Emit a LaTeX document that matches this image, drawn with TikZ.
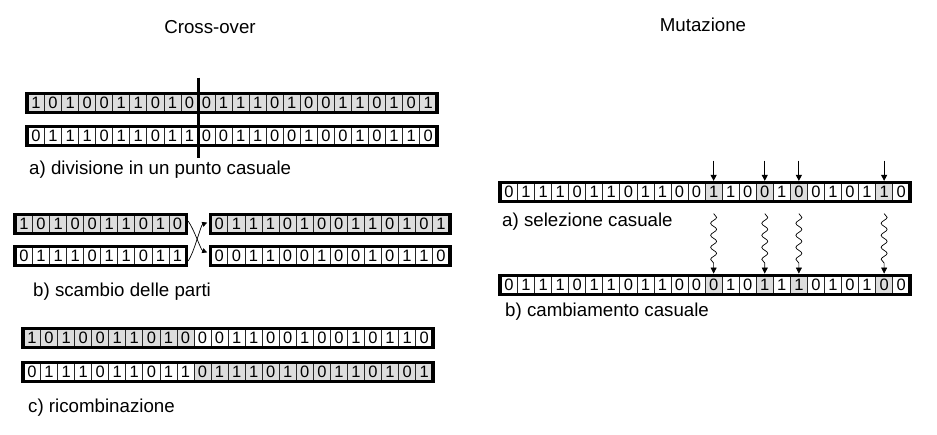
\documentclass[tikz,border=0pt]{standalone}
\usepackage{fontspec}
\setmainfont{Liberation Sans}
\usetikzlibrary{arrows.meta,fit,calc,decorations.pathmorphing}
\definecolor{gr}{RGB}{221,221,221}
\definecolor{wh}{RGB}{255,255,255}
\tikzset{
  cell/.style={draw=black!85, line width=0.8pt, minimum width=17.05pt, minimum height=18pt,
               inner sep=0pt, font=\fontsize{16.5}{18}\selectfont},
  chrom/.style={draw, line width=3.3pt, inner sep=0pt},
  caption/.style={anchor=base west, inner sep=0pt, font=\fontsize{18.7}{22}\selectfont},
  title/.style={anchor=base, inner sep=0pt, font=\fontsize{18.7}{22}\selectfont},
  cut/.style={line width=3pt},
  swap/.style={-{Triangle[length=5pt,width=5pt]}, line width=0.7pt, shorten >=1.7pt},
  pick/.style={-{Triangle[length=6pt,width=6pt]}, line width=1pt, shorten >=1.7pt},
  flip/.style={-{Triangle[length=6pt,width=6pt]}, line width=0.7pt, decorate,
               decoration={snake, amplitude=3pt, segment length=12pt, post length=6pt}},
}
\newcommand{\bitrow}[5]{%
  \foreach \bit/\fc [count=\k] in {#5}
    \node[cell, fill=\fc] (#1-\k) at ({#2+(\k-0.5)*17.05},#3) {\bit};
  \node[chrom, fit=(#1-1)(#1-#4)] (#1) {};
}

\begin{document}
\begin{tikzpicture}[x=1pt,y=-1pt]
  \fill[white] (0,0) rectangle (937,435);
  \useasboundingbox (0,0) rectangle (937,435);

  \node[title] (xo) at (210,34) {Cross-over};
  \node[title] (mu) at (703,32) {Mutazione};

  \bitrow{a1}{27.5}{103}{24}{1/gr,0/gr,1/gr,0/gr,0/gr,1/gr,1/gr,0/gr,1/gr,0/gr,0/gr,1/gr,1/gr,1/gr,0/gr,1/gr,0/gr,0/gr,1/gr,1/gr,0/gr,1/gr,0/gr,1/gr}
  \bitrow{a2}{27.5}{136}{24}{0/wh,1/wh,1/wh,1/wh,0/wh,1/wh,1/wh,0/wh,1/wh,1/wh,0/wh,0/wh,1/wh,1/wh,0/wh,0/wh,1/wh,0/wh,0/wh,1/wh,0/wh,1/wh,1/wh,0/wh}
  \coordinate (cut top) at ($(a1-10.north east)+(0,-16)$);
  \coordinate (cut bot) at ($(a2-10.south east)+(0,13)$);
  \draw[cut] (cut top) -- (cut bot);
  \node[caption] (la) at (29,175) {a) divisione in un punto casuale};

  \bitrow{b1}{15.5}{224}{10}{1/gr,0/gr,1/gr,0/gr,0/gr,1/gr,1/gr,0/gr,1/gr,0/gr}
  \bitrow{b2}{15.5}{256}{10}{0/wh,1/wh,1/wh,1/wh,0/wh,1/wh,1/wh,0/wh,1/wh,1/wh}
  \bitrow{b3}{210.8}{224}{14}{0/gr,1/gr,1/gr,1/gr,0/gr,1/gr,0/gr,0/gr,1/gr,1/gr,0/gr,1/gr,0/gr,1/gr}
  \bitrow{b4}{210.8}{256}{14}{0/wh,0/wh,1/wh,1/wh,0/wh,0/wh,1/wh,0/wh,0/wh,1/wh,0/wh,1/wh,1/wh,0/wh}
  \draw[swap] ([yshift=3pt]b1.east) .. controls +(6,8) and +(-8,-3) .. ([yshift=3pt]b4.west);
  \draw[swap] ([yshift=-5pt]b2.east) .. controls +(6,-8) and +(-8,3) .. ([yshift=2pt]b3.west);
  \node[caption] (lb) at (33,297) {b) scambio delle parti};

  \bitrow{c1}{23.5}{338}{24}{1/gr,0/gr,1/gr,0/gr,0/gr,1/gr,1/gr,0/gr,1/gr,0/gr,0/wh,0/wh,1/wh,1/wh,0/wh,0/wh,1/wh,0/wh,0/wh,1/wh,0/wh,1/wh,1/wh,0/wh}
  \bitrow{c2}{23.5}{372}{24}{0/wh,1/wh,1/wh,1/wh,0/wh,1/wh,1/wh,0/wh,1/wh,1/wh,0/gr,1/gr,1/gr,1/gr,0/gr,1/gr,0/gr,0/gr,1/gr,1/gr,0/gr,1/gr,0/gr,1/gr}
  \node[caption] (lc) at (28,413) {c) ricombinazione};

  \bitrow{m1}{500.5}{192}{24}{0/wh,1/wh,1/wh,1/wh,0/wh,1/wh,1/wh,0/wh,1/wh,1/wh,0/wh,0/wh,1/gr,1/wh,0/wh,0/gr,1/wh,0/gr,0/wh,1/wh,0/wh,1/wh,1/gr,0/wh}
  \bitrow{m2}{500.5}{285}{24}{0/wh,1/wh,1/wh,1/wh,0/wh,1/wh,1/wh,0/wh,1/wh,1/wh,0/wh,0/wh,0/gr,1/wh,0/wh,1/gr,1/wh,1/gr,0/wh,1/wh,0/wh,1/wh,0/gr,0/wh}
  \node[caption] (ma) at (502,227) {a) selezione casuale};
  \node[caption] (mb) at (505,317) {b) cambiamento casuale};
  \foreach \k in {13,16,18,23} {
    \coordinate (p\k) at ($(m1-\k.north)+(0,-22)$);
    \coordinate (w\k) at ($(m2-\k.north)+(0,-62)$);
    \draw[pick] (p\k) -- (m1-\k.north);
    \draw[flip] (w\k) -- ([yshift=2pt]m2-\k.north);
  }
\end{tikzpicture}
\end{document}
